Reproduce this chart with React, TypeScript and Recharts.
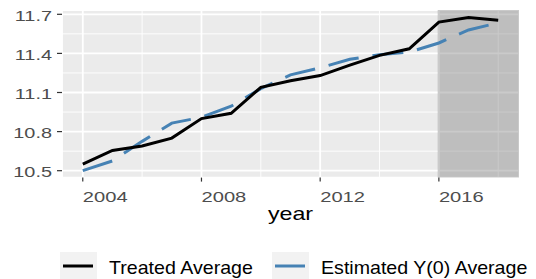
import React from "react";
import {
  CartesianGrid,
  Legend,
  Line,
  LineChart,
  ReferenceArea,
  XAxis,
  YAxis,
} from "recharts";

const YEARS = [2004, 2005, 2006, 2007, 2008, 2009, 2010, 2011, 2012, 2013, 2014, 2015, 2016, 2017, 2018];
const TREATED = [10.55, 10.655, 10.69, 10.75, 10.9, 10.94, 11.14, 11.19, 11.23, 11.31, 11.385, 11.435, 11.64, 11.675, 11.655];
const ESTIMATED = [10.5, 10.575, 10.725, 10.865, 10.91, 10.995, 11.13, 11.235, 11.29, 11.355, 11.39, 11.41, 11.48, 11.58, 11.635];

const X_TICKS = [2004, 2008, 2012, 2016];
const X_MINOR = [2006, 2010, 2014, 2018];
const Y_TICKS = [10.5, 10.8, 11.1, 11.4, 11.7];
const Y_MINOR = [10.65, 10.95, 11.25, 11.55];
const X_DOMAIN = [2003.3, 2018.7];
const Y_DOMAIN = [10.447, 11.733];
const POST_START = 2015.96;

const SERIES = [
  { key: "treated", name: "Treated Average", color: "#000000" },
  { key: "estimated", name: "Estimated Y(0) Average", color: "#4682B4" },
];

const data = YEARS.map((year, i) => ({
  year,
  treated: TREATED[i],
  estimated: ESTIMATED[i],
}));

const FONT = "'Liberation Sans', Arial, sans-serif";
const TEXT = "#4D4D4D";

const XTick = ({ x, y, payload }: any) => (
  <text
    transform={`translate(${x},${y + 18}) scale(1.44,1)`}
    fontSize={14}
    fontFamily={FONT}
    fill={TEXT}
  >
    {payload.value}
  </text>
);

const YTick = ({ x, y, payload }: any) => (
  <text
    transform={`translate(${x - 3},${y + 6.5}) scale(1.42,1)`}
    fontSize={14}
    fontFamily={FONT}
    fill={TEXT}
    textAnchor="end"
  >
    {Number(payload.value).toFixed(1)}
  </text>
);

const YearLabel = ({ viewBox }: any) => (
  <text
    transform={`translate(${viewBox.x + viewBox.width / 2},${viewBox.y + 42}) scale(1.29,1)`}
    fontSize={18}
    fontFamily={FONT}
    fill="#000000"
    textAnchor="middle"
  >
    year
  </text>
);

const LEGEND_X = [60, 272];

const LegendContent = () => (
  <svg width={536} height={29} style={{ display: "block" }}>
    {SERIES.map((s, i) => (
      <g key={s.key}>
        <rect x={LEGEND_X[i]} y={2} width={37} height={28} fill="#F2F2F2" />
        <line
          x1={LEGEND_X[i] + 3}
          x2={LEGEND_X[i] + 33}
          y1={16}
          y2={16}
          stroke={s.color}
          strokeWidth={3}
        />
        <text
          transform={`translate(${LEGEND_X[i] + 49},23.8) scale(1.09,1)`}
          fontSize={18}
          fontFamily={FONT}
          fill="#000000"
        >
          {s.name}
        </text>
      </g>
    ))}
  </svg>
);

export default function App() {
  return (
    <div style={{ position: "absolute", left: 0, top: 0, width: 536, height: 279, background: "#fff" }}>
      <LineChart
        width={536}
        height={279}
        data={data}
        margin={{ top: 10, right: 17, bottom: 0, left: 0 }}
      >
        <CartesianGrid
          xAxisId="minor"
          yAxisId="minor"
          fill="#EBEBEB"
          stroke="#FFFFFF"
          strokeWidth={0.9}
        />
        <CartesianGrid stroke="#FFFFFF" strokeWidth={1.8} />
        <XAxis
          xAxisId="minor"
          dataKey="year"
          type="number"
          domain={X_DOMAIN}
          ticks={X_MINOR}
          allowDataOverflow
          hide
        />
        <YAxis
          yAxisId="minor"
          type="number"
          domain={Y_DOMAIN}
          ticks={Y_MINOR}
          allowDataOverflow
          hide
        />
        <XAxis
          dataKey="year"
          type="number"
          domain={X_DOMAIN}
          ticks={X_TICKS}
          allowDataOverflow
          axisLine={false}
          tickSize={4}
          tickLine={{ stroke: "#333333", strokeWidth: 1.2 }}
          tick={<XTick />}
          height={72.4}
          label={<YearLabel />}
        />
        <YAxis
          type="number"
          domain={Y_DOMAIN}
          ticks={Y_TICKS}
          allowDataOverflow
          axisLine={false}
          tickSize={5}
          tickLine={{ stroke: "#333333", strokeWidth: 1.2 }}
          tick={<YTick />}
          width={62}
        />
        <ReferenceArea
          x1={POST_START}
          x2={X_DOMAIN[1]}
          fill="#808080"
          fillOpacity={0.42}
          stroke="none"
        />
        <Line
          dataKey="estimated"
          name="Estimated Y(0) Average"
          stroke="#4682B4"
          strokeWidth={3}
          strokeDasharray="31 14"
          dot={false}
          activeDot={false}
          isAnimationActive={false}
        />
        <Line
          dataKey="treated"
          name="Treated Average"
          stroke="#000000"
          strokeWidth={3}
          dot={false}
          activeDot={false}
          isAnimationActive={false}
        />
        <Legend
          verticalAlign="bottom"
          height={29}
          content={<LegendContent />}
          wrapperStyle={{ left: 0, width: 536 }}
        />
      </LineChart>
    </div>
  );
}
